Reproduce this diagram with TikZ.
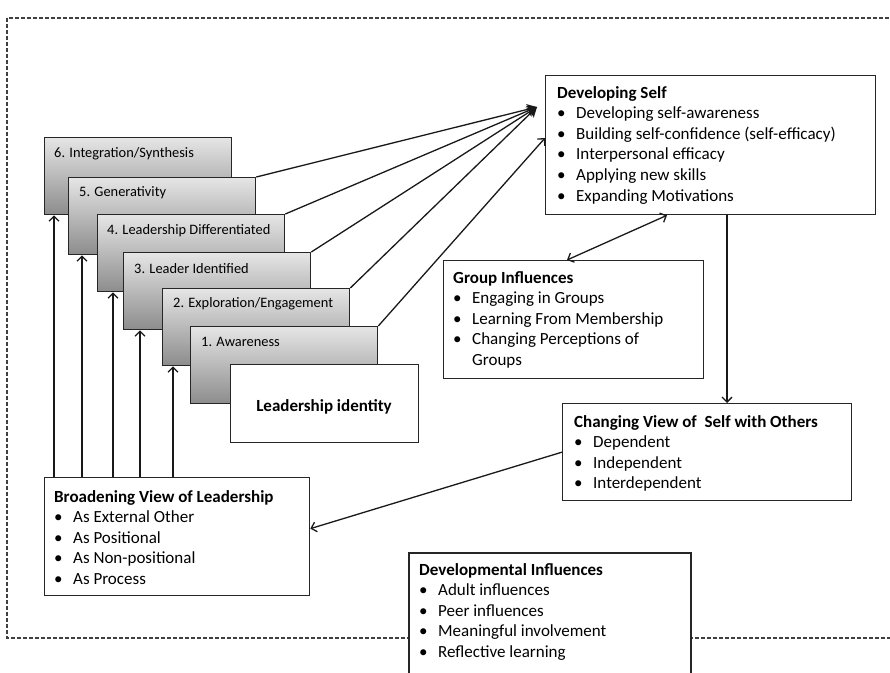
\documentclass[tikz,border=0pt]{standalone}
\usepackage{fontspec}
\setmainfont{Carlito}
\usetikzlibrary{arrows.meta,calc}
\tikzset{
  frame/.style={draw=black!85, line width=1.3pt, fill=white, anchor=north west, inner sep=0pt},
  stagebox/.style={draw=black!85, line width=1.3pt, anchor=north west, inner sep=0pt,
    minimum width=187pt, minimum height=77pt, top color=black!10, bottom color=black!45},
  stagelabel/.style={anchor=base west, inner sep=0pt, font=\fontsize{14.4}{17}\selectfont},
  line/.style={anchor=base west, inner sep=0pt, font=\fontsize{17}{20.5}\selectfont},
  conn/.style={draw=black!90, line width=1.3pt},
  arr/.style={conn, -{Straight Barb[length=5pt,width=10pt,line width=1.3pt]}},
  darr/.style={conn, {Straight Barb[length=5pt,width=10pt,line width=1.3pt]}-{Straight Barb[length=5pt,width=10pt,line width=1.3pt]}},
  blob/.style={conn, -{Stealth[length=10pt,width=11pt]}},
}
\newcommand{\bul}{\makebox[19pt][l]{\textbullet}}
\begin{document}
\begin{tikzpicture}[x=1pt,y=-1pt]
\useasboundingbox (0,0) rectangle (890,672);
\clip (0,0) rectangle (890,672);
\fill[white] (0,0) rectangle (890,672);
% dashed outer frame
\draw[draw=black!75, line width=1.2pt, dash pattern=on 4pt off 2pt] (7,18) rectangle (905,638);

% stage boxes
\node[stagebox] (b6) at (44,137) {};
\node[stagelabel] (l6) at (54,157) {6. Integration/Synthesis};
\node[stagebox] (b5) at (68,177) {};
\node[stagelabel] (l5) at (79,196) {5. Generativity};
\node[stagebox] (b4) at (97,214) {};
\node[stagelabel] (l4) at (107,234) {4. Leadership Differentiated};
\node[stagebox] (b3) at (123,252) {};
\node[stagelabel] (l3) at (134,273) {3. Leader Identified};
\node[stagebox] (b2) at (162,288) {};
\node[stagelabel] (l2) at (173,307) {2. Exploration/Engagement};
\node[stagebox] (b1) at (190,326) {};
\node[stagelabel] (l1) at (201,346) {1. Awareness};
\node[frame, minimum width=188pt, minimum height=78pt] (li) at (230,364) {};
\node[inner sep=0pt, font=\fontsize{17}{20}\selectfont\bfseries] (lit) at (324,407) {Leadership identity};

% Developing Self
\node[frame, minimum width=330pt, minimum height=139pt] (ds) at (545,75) {};
\node[line] (ds0) at (557,98) {\textbf{Developing Self}};
\node[line] (ds1) at (557,118.6) {\bul Developing self-awareness};
\node[line] (ds2) at (557,139.2) {\bul Building self-confidence (self-efficacy)};
\node[line] (ds3) at (557,159.8) {\bul Interpersonal efficacy};
\node[line] (ds4) at (557,180.4) {\bul Applying new skills};
\node[line] (ds5) at (557,201) {\bul Expanding Motivations};

% Group Influences
\node[frame, minimum width=260pt, minimum height=118pt] (gi) at (443,260) {};
\node[line] (gi0) at (453,283) {\textbf{Group Influences}};
\node[line] (gi1) at (453,303.5) {\bul Engaging in Groups};
\node[line] (gi2) at (453,324) {\bul Learning From Membership};
\node[line] (gi3) at (453,344.5) {\bul Changing Perceptions of};
\node[line] (gi4) at (472,365) {Groups};

% Changing View
\node[frame, minimum width=289pt, minimum height=97pt] (cv) at (562,403) {};
\node[line] (cv0) at (574,427) {\textbf{Changing View of\ \ Self with Others}};
\node[line] (cv1) at (574,447.5) {\bul Dependent};
\node[line] (cv2) at (574,468) {\bul Independent};
\node[line] (cv3) at (574,488.5) {\bul Interdependent};

% Broadening View
\node[frame, minimum width=265pt, minimum height=118pt] (bv) at (44,477) {};
\node[line] (bv0) at (54,502) {\textbf{Broadening View of Leadership}};
\node[line] (bv1) at (54,522.5) {\bul As External Other};
\node[line] (bv2) at (54,543) {\bul As Positional};
\node[line] (bv3) at (54,563.5) {\bul As Non-positional};
\node[line] (bv4) at (54,584) {\bul As Process};

% Developmental Influences
\node[frame, line width=2.4pt, minimum width=282pt, minimum height=160pt] (di) at (408,552) {};
\node[line] (di0) at (419,575) {\textbf{Developmental Influences}};
\node[line] (di1) at (419,595.5) {\bul Adult influences};
\node[line] (di2) at (419,616) {\bul Peer influences};
\node[line] (di3) at (419,636.5) {\bul Meaningful involvement};
\node[line] (di4) at (419,657) {\bul Reflective learning};

% converging arrows to Developing Self
\coordinate (conv) at (537,107);
\draw[blob] (b5.north east) -- (conv);
\draw[blob] (b4.north east) -- (conv);
\draw[blob] (b3.north east) -- (conv);
\draw[blob] (b2.north east) -- (conv);
\path ([yshift=-63pt]ds.north west) coordinate (dsw);
\draw[arr] (b1.north east) -- (dsw);

% up arrows from Broadening View
\path ([xshift=10pt]b6.south west) coordinate (t6);
\path ([xshift=14pt]b5.south west) coordinate (t5);
\path ([xshift=16pt]b4.south west) coordinate (t4);
\path ([xshift=17pt]b3.south west) coordinate (t3);
\path ([xshift=11pt]b2.south west) coordinate (t2);
\foreach \t in {t6,t5,t4,t3,t2}{
  \draw[arr] (\t |- bv.north) -- (\t);
}

% Developing Self <-> Group Influences
\path ([xshift=122pt]ds.south west) coordinate (dsb);
\path ([xshift=124pt]gi.north west) coordinate (git);
\draw[darr] (git) -- (dsb);

% Developing Self -> Changing View
\path ([xshift=182pt]ds.south west) coordinate (dsv);
\draw[arr] (dsv) -- (dsv |- cv.north);

% Changing View -> Broadening View
\draw[arr] (cv.west) -- ([yshift=8pt]bv.east);
\end{tikzpicture}
\end{document}
